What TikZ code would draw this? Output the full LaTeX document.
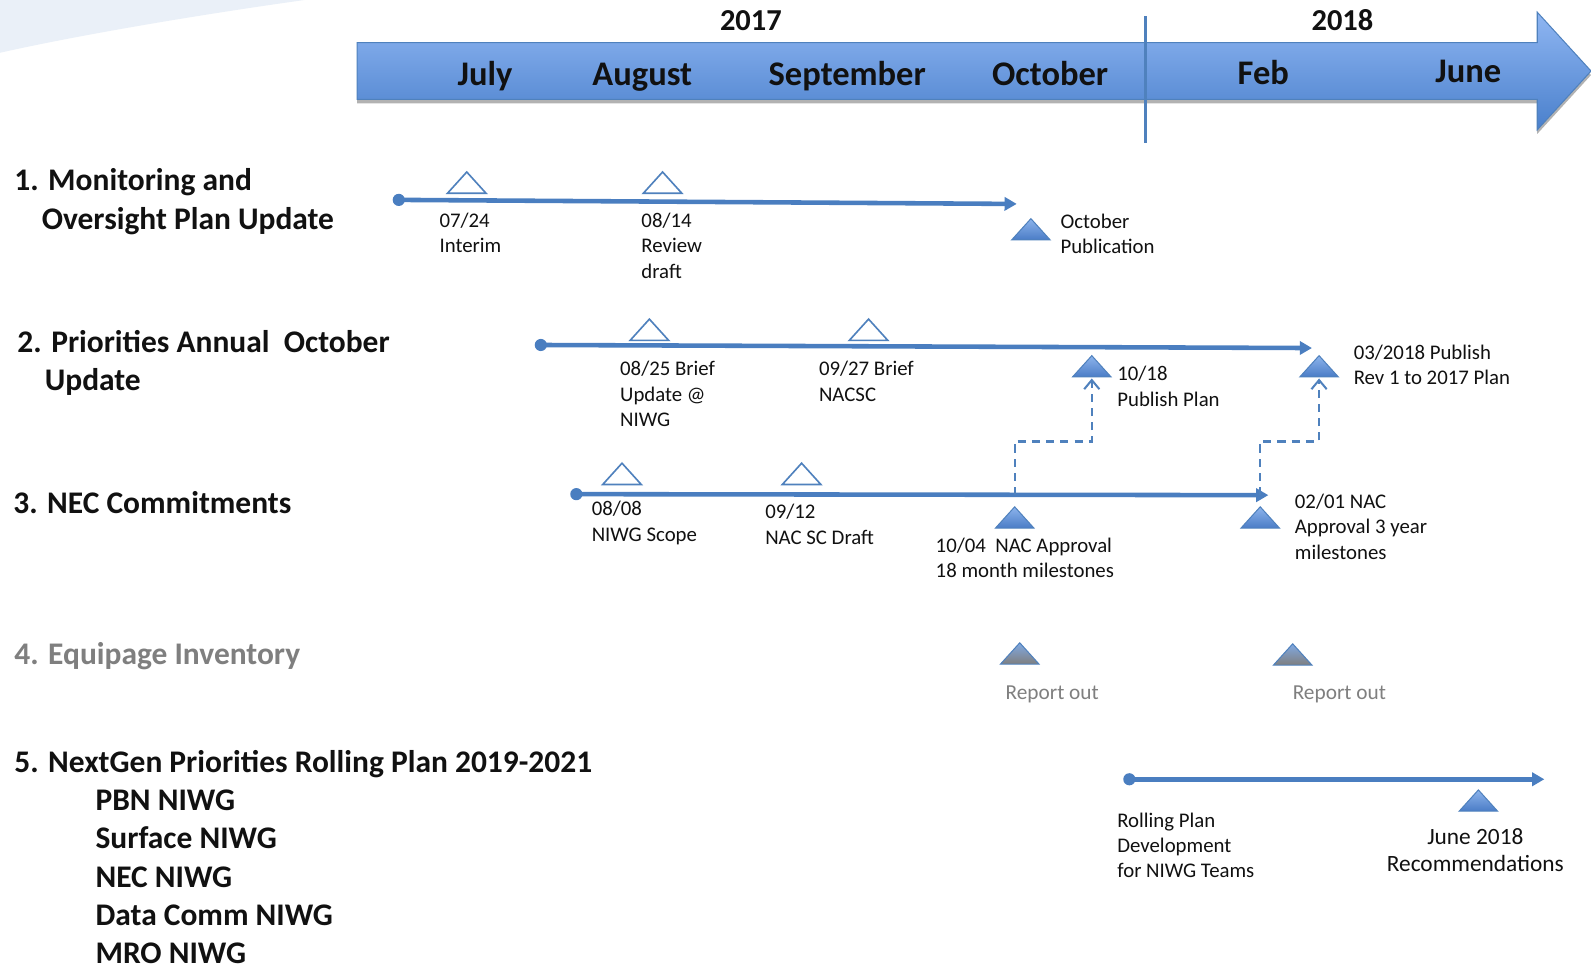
\documentclass[tikz,border=0pt]{standalone}
\usepackage{fontspec}
\setmainfont{Carlito}
\usetikzlibrary{arrows.meta,shadows}
\definecolor{tlblue}{HTML}{4A7EC0}
\definecolor{edgeblue}{HTML}{4F81BD}
\definecolor{arrtop}{HTML}{8FB6F2}
\definecolor{arrbot}{HTML}{4A80CC}
\definecolor{tritop}{HTML}{8DB4EC}
\definecolor{tribot}{HTML}{4A7CC6}
\definecolor{greytxt}{HTML}{7F7F7F}
\definecolor{swoosh}{HTML}{EAF0F8}
\definecolor{txt}{HTML}{111111}
\tikzset{
  tri/.pic={\path[pic actions] (-19,10.5) -- (19,10.5) -- (0,-10.5) -- cycle;},
  opentri/.style={draw=edgeblue, line width=1.6, fill=white},
  filltri/.style={draw=edgeblue, line width=1, top color=tritop, bottom color=tribot,
    drop shadow={shadow xshift=0pt, shadow yshift=-3pt, opacity=0.25, fill=black}},
  greytri/.style={draw=edgeblue, line width=1, top color=tritop!80!edgeblue, bottom color=greytxt,
    drop shadow={shadow xshift=0pt, shadow yshift=-3pt, opacity=0.25, fill=black}},
  dot/.style={circle, fill=tlblue, inner sep=0, minimum size=12},
  tl/.style={draw=tlblue, line width=4.5, -{Triangle[length=12,width=13]}},
  conn/.style={draw=edgeblue, line width=2.3, dash pattern=on 8 off 6, -{Straight Barb[length=9,width=15,line width=2]}},
  lbl/.style={anchor=north west, inner sep=0, align=left, text=txt, font=\bfseries\fontsize{31}{37.8}\selectfont},
  sm/.style={anchor=north west, inner sep=0, align=left, text=txt, font=\fontsize{20.5}{24.8}\selectfont},
  month/.style={anchor=base, inner sep=0, text=txt, font=\bfseries\fontsize{34}{40}\selectfont},
  year/.style={anchor=base, inner sep=0, text=txt, font=\bfseries\fontsize{30}{36}\selectfont},
}
\begin{document}
\begin{tikzpicture}[x=1pt,y=-1pt]
\useasboundingbox (0,0) rectangle (1568,952);
\fill[white] (0,0) rectangle (1568,952);
% decorative swoosh
\fill[swoosh] (0,0) -- (300,0) .. controls (200,14) and (80,34) .. (0,52) -- cycle;

% main time arrow
\path[draw=edgeblue, line width=1, top color=arrtop, bottom color=arrbot,
  drop shadow={shadow xshift=0pt, shadow yshift=-4pt, opacity=0.3, fill=black}]
  (352,42) -- (1515,42) -- (1515,12) -- (1568,70) -- (1515,128) -- (1515,98) -- (352,98) -- cycle;
\node[year] (y17) at (740,30) {2017};
\node[year] (y18) at (1323,30) {2018};
\node[month] (mjul) at (478,84) {July};
\node[month] (maug) at (633,84) {August};
\node[month] (msep) at (835,84) {September};
\node[month] (moct) at (1035,84) {October};
\node[month] (mfeb) at (1245,83) {Feb};
\node[month] (mjun) at (1447,81) {June};
\coordinate (ydivT) at (1129,16);
\coordinate (ydivB) at (1129,141);
\draw[edgeblue, line width=3] (ydivT) -- (ydivB);

% Row labels
\node[lbl] (r1) at (14,166) {1. Monitoring and\\\hspace*{27pt}Oversight Plan Update};
\node[lbl] (r2) at (17,325) {2. Priorities Annual\ \ October\\\hspace*{27pt}Update};
\node[lbl] (r3) at (13,484) {3. NEC Commitments};
\node[lbl, text=greytxt] (r4) at (14,633) {4. Equipage Inventory};
\node[lbl] (r5) at (14,739) {5. NextGen Priorities Rolling Plan 2019-2021\\
  \hspace*{80pt}PBN NIWG\\\hspace*{80pt}Surface NIWG\\\hspace*{80pt}NEC NIWG\\
  \hspace*{80pt}Data Comm NIWG\\\hspace*{80pt}MRO NIWG};

% Row 1
\node[dot] (s1) at (393,197) {};
\coordinate (e1) at (1002,201);
\draw[tl] (s1.center) -- (e1);
\pic (t11) [opentri] at (460,180) {tri};
\pic (t12) [opentri] at (653,180) {tri};
\pic (t13) [filltri] at (1016,226) {tri};
\node[sm] (x11) at (433,210) {07/24\\Interim};
\node[sm] (x12) at (632,210) {08/14\\Review\\draft};
\node[sm] (x13) at (1045,211) {October\\Publication};

% Row 2
\node[dot] (s2) at (533,340) {};
\coordinate (e2) at (1293,343);
\draw[tl] (s2.center) -- (e2);
\pic (t21) [opentri] at (640,325) {tri};
\pic (t22) [opentri] at (856,325) {tri};
\pic (t23) [filltri] at (1076,361) {tri};
\pic (t24) [filltri] at (1300,361) {tri};
\coordinate (t23b) at (1076,373);
\coordinate (t24b) at (1300,373);
\node[sm] (x21) at (611,356) {08/25 Brief\\Update @\\NIWG};
\node[sm] (x22) at (807,356) {09/27 Brief\\NACSC};
\node[sm] (x23) at (1101,361) {10/18\\Publish Plan};
\node[sm] (x24) at (1334,340) {03/2018 Publish\\Rev 1 to 2017 Plan};

% Row 3
\node[dot] (s3) at (568,487) {};
\coordinate (e3) at (1250,488);
\draw[tl] (s3.center) -- (e3);
\pic (t31) [opentri] at (613,467) {tri};
\pic (t32) [opentri] at (790,467) {tri};
\pic (t33) [filltri] at (1000,510) {tri};
\pic (t34) [filltri] at (1242,510) {tri};
\node[sm] (x31) at (583,494) {08/08\\NIWG Scope};
\node[sm] (x32) at (754,497) {09/12\\NAC SC Draft};
\node[sm] (x33) at (922,530) {10/04\ \ NAC Approval\\18 month milestones};
\node[sm] (x34) at (1276,487) {02/01 NAC\\Approval 3 year\\milestones};

% dashed links row 3 -> row 2
\coordinate (d1) at (1000,488);
\coordinate (d2) at (1242,488);
\draw[conn] (d1) -- (d1 |- 0,435) -| (t23b);
\draw[conn] (d2) -- (d2 |- 0,435) -| (t24b);

% Row 4
\pic (t41) [greytri] at (1005,644) {tri};
\pic (t42) [greytri] at (1274,645) {tri};
\node[sm, anchor=north, text=greytxt, font=\fontsize{21}{25}\selectfont] (x41) at (1037,676) {Report out};
\node[sm, anchor=north, text=greytxt, font=\fontsize{21}{25}\selectfont] (x42) at (1320,676) {Report out};

% Row 5
\node[dot] (s5) at (1113,768) {};
\coordinate (e5) at (1522,768);
\draw[tl] (s5.center) -- (e5);
\pic (t51) [filltri] at (1457,789) {tri};
\node[sm] (x51) at (1101,801) {Rolling Plan\\Development\\for NIWG Teams};
\node[sm, anchor=north, align=center, font=\fontsize{23}{27}\selectfont] (x52) at (1454,816) {June 2018\\Recommendations};
\end{tikzpicture}
\end{document}
